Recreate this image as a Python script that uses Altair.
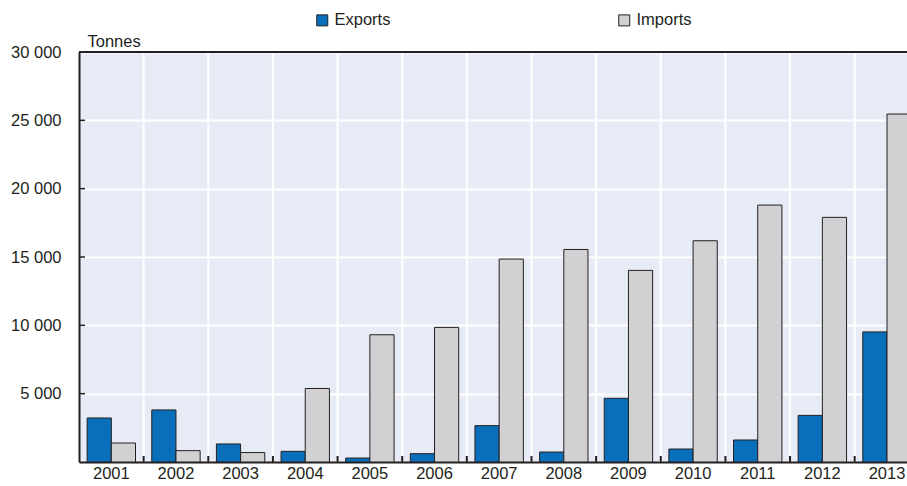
import altair as alt
import pandas as pd

# Annual trade volumes, tonnes
years = ["2001", "2002", "2003", "2004", "2005", "2006", "2007",
         "2008", "2009", "2010", "2011", "2012", "2013"]
exports = [3220, 3810, 1320, 780, 290, 610, 2660, 730, 4660, 950, 1610, 3410, 9520]
imports = [1390, 830, 690, 5380, 9310, 9850, 14850, 15550, 14020, 16190, 18800, 17900, 25460]
series = ["Exports", "Imports"]
series_colors = ["#0a6fba", "#d1d1d3"]
y_ticks = [5000, 10000, 15000, 20000, 25000, 30000]

long = pd.DataFrame({
    "year": years * 2,
    "series": [series[0]] * len(years) + [series[1]] * len(years),
    "value": exports + imports,
})
bounds = pd.DataFrame({"year": years[1:]})
inner_ticks = pd.DataFrame({"v": y_ticks[:-1]})
top_line = pd.DataFrame({"v": [y_ticks[-1]]})

W, H = 828, 410
STEP = 64.64
FONT = "Liberation Sans"
FS = 16.5
DARK = "#231f20"

x_scale = alt.Scale(domain=years, range=[0, STEP * len(years)], paddingInner=0, paddingOuter=0)
y_scale = alt.Scale(domain=[0, 30000], nice=False)

x_axis = alt.Axis(title=None, labelAngle=0, ticks=False, grid=False, bandPosition=0.5,
                  domainColor=DARK, domainWidth=2, labelPadding=3,
                  labelFontSize=FS, labelColor=DARK, labelFont=FONT)

bars = alt.Chart(long).mark_bar(stroke=DARK, strokeWidth=1, clip=True).encode(
    x=alt.X("year:N", scale=x_scale, axis=x_axis),
    xOffset=alt.XOffset("series:N", scale=alt.Scale(paddingOuter=0.336, paddingInner=0)),
    y=alt.Y("value:Q", scale=y_scale,
            axis=alt.Axis(values=y_ticks, ticks=False, grid=True, gridColor="white",
                          gridWidth=2, domainColor=DARK, domainWidth=2, labelPadding=18,
                          labelFontSize=FS, labelColor=DARK, labelFont=FONT,
                          labelExpr="replace(format(datum.value, ','), ',', ' ')",
                          title="Tonnes", titleAngle=0, titleAlign="left",
                          titleBaseline="alphabetic", titleX=8, titleY=-6,
                          titleFontSize=FS, titleFontWeight="normal",
                          titleColor=DARK, titleFont=FONT)),
    color=alt.Color("series:N", scale=alt.Scale(domain=series, range=series_colors),
                    legend=alt.Legend(title=None, orient="none", direction="horizontal",
                                      legendX=235, legendY=-40, symbolType="square",
                                      symbolSize=121, symbolStrokeColor=DARK,
                                      symbolStrokeWidth=1, symbolOpacity=1,
                                      labelFontSize=FS, labelColor=DARK, labelFont=FONT,
                                      labelOffset=4, columnPadding=225)),
)

# white separators between year groups
vgrid = alt.Chart(bounds).mark_rule(color="white", strokeWidth=2).encode(
    x=alt.X("year:N", bandPosition=0, scale=x_scale, axis=x_axis),
    y=alt.value(0), y2=alt.value(H),
)

# short inward ticks along both axes
xticks = alt.Chart(bounds).mark_rule(color=DARK, strokeWidth=2).encode(
    x=alt.X("year:N", bandPosition=0, scale=x_scale, axis=x_axis),
    y=alt.value(H - 6), y2=alt.value(H),
)
yticks = alt.Chart(inner_ticks).mark_rule(color=DARK, strokeWidth=1.5).encode(
    y=alt.Y("v:Q", scale=y_scale),
    x=alt.value(0), x2=alt.value(6),
)
top = alt.Chart(top_line).mark_rule(color=DARK, strokeWidth=2).encode(
    y=alt.Y("v:Q", scale=y_scale),
    x=alt.value(0), x2=alt.value(W),
)

chart = alt.layer(vgrid, bars, xticks, yticks, top).properties(
    width=W, height=H,
    autosize=alt.AutoSizeParams(type="none"),
    padding={"left": 79, "top": 52, "right": 0, "bottom": 24},
    background="white",
).configure_view(fill="#e7ebf5", stroke=None)

chart.save("out.html", embed_options={"renderer": "svg", "actions": False})
